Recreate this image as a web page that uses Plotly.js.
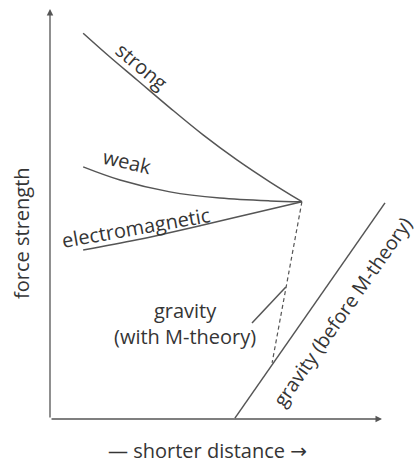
<!DOCTYPE html>
<html>
<head>
<meta charset="utf-8">
<script src="https://cdn.plot.ly/plotly-3.0.1.min.js"></script>
<style>
  html, body { margin: 0; padding: 0; background: #fff; }
  #chart { width: 419px; height: 463px; }
</style>
</head>
<body>
<div id="chart"></div>
<script>
// curves, in arbitrary units (distance 0..11, strength 0..10)
var strongX = [0.99, 1.79, 2.60, 3.58, 4.57, 5.58, 6.57, 7.52];
var strongY = [9.41, 8.83, 8.27, 7.59, 6.93, 6.32, 5.78, 5.30];
var weakX = [0.99, 2.09, 3.58, 5.07, 6.57, 7.52];
var weakY = [6.15, 5.83, 5.54, 5.39, 5.32, 5.30];
var emX = [0.99, 2.60, 4.57, 6.06, 7.52];
var emY = [4.12, 4.37, 4.73, 5.02, 5.30];
var gravMX = [7.52, 6.63];
var gravMY = [5.30, 1.37];
var gravBeforeX = [5.52, 10.0];
var gravBeforeY = [0.02, 5.27];
var leaderX = [6.03, 7.04];
var leaderY = [2.34, 3.22];

var lineCol = '#555';
var textCol = '#353535';
var fnt = 'Open Sans, DejaVu Sans, sans-serif';

function curve(x, y, dash) {
  return {
    x: x, y: y, type: 'scatter', mode: 'lines', hoverinfo: 'skip',
    line: { color: lineCol, width: dash ? 1.2 : 1.5, shape: 'spline', dash: dash || 'solid' }
  };
}

var data = [
  curve(strongX, strongY),
  curve(weakX, weakY),
  curve(emX, emY),
  curve(gravMX, gravMY, '4px,3px'),
  curve(gravBeforeX, gravBeforeY),
  curve(leaderX, leaderY)
];

function label(text, x, y, angle, size) {
  return {
    text: text, x: x, y: y, xref: 'x', yref: 'y', showarrow: false,
    textangle: angle || 0, xanchor: 'center', yanchor: 'middle',
    font: { family: fnt, size: size || 20, color: textCol }
  };
}

var annotations = [
  label('strong', 2.75, 8.61, 40),
  label('weak', 2.30, 6.29, 13),
  label('electromagnetic', 2.57, 4.66, -10),
  label('gravity<br>(with M-theory)', 4.03, 2.32),
  label('gravity (before M-theory)', 8.72, 2.63, -55, 19.5),
  // axes with arrow heads
  { x: 0, y: 10.0, ax: 0, ay: 0, xref: 'x', yref: 'y', axref: 'x', ayref: 'y',
    text: '', showarrow: true, arrowhead: 2, arrowsize: 1, arrowwidth: 1.3, arrowcolor: lineCol },
  { x: 9.91, y: 0, ax: 0, ay: 0, xref: 'x', yref: 'y', axref: 'x', ayref: 'y',
    text: '', showarrow: true, arrowhead: 2, arrowsize: 1, arrowwidth: 1.3, arrowcolor: lineCol },
  // axis titles
  { text: '— shorter distance →', xref: 'paper', yref: 'paper', x: 0.4255, y: -0.074,
    showarrow: false, xanchor: 'center', yanchor: 'middle',
    font: { family: fnt, size: 20, color: textCol } },
  { text: 'force strength', xref: 'paper', yref: 'paper', x: -0.076, y: 0.444,
    showarrow: false, textangle: -90, xanchor: 'center', yanchor: 'middle',
    font: { family: fnt, size: 20, color: textCol } }
];

var layout = {
  width: 419, height: 463,
  margin: { l: 50, r: 0, t: 0, b: 44 },
  paper_bgcolor: '#fff', plot_bgcolor: '#fff',
  showlegend: false,
  xaxis: { range: [0, 11.015], showgrid: false, zeroline: false, showline: false,
           showticklabels: false, ticks: '', fixedrange: true },
  yaxis: { range: [0, 10.22], showgrid: false, zeroline: false, showline: false,
           showticklabels: false, ticks: '', fixedrange: true },
  annotations: annotations
};

Plotly.newPlot('chart', data, layout, { displayModeBar: false, staticPlot: true });
</script>
</body>
</html>
